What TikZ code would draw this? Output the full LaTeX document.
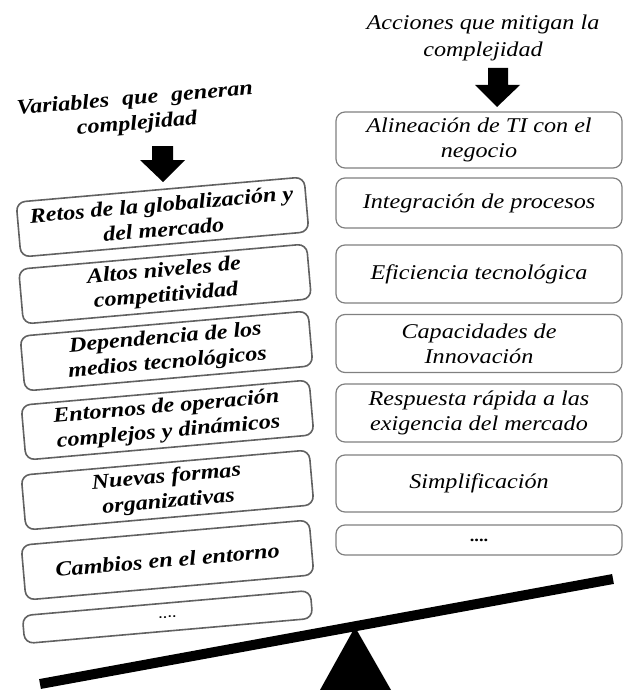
\documentclass[tikz,border=0pt]{standalone}
\usepackage{fontspec}
\setmainfont{Liberation Serif}[FakeStretch=1.15]
\begin{document}
\begin{tikzpicture}[x=1pt,y=-1pt,
  lbox/.style={draw=black!62, line width=1.6pt, rounded corners=9pt,
    minimum width=289pt, minimum height=55pt, align=center, inner sep=1pt,
    font=\fontsize{21}{25}\selectfont\bfseries\itshape, rotate=5},
  rbox/.style={draw=black!50, line width=1.2pt, rounded corners=9pt,
    minimum width=286pt, minimum height=57pt, align=center, inner sep=1pt,
    font=\fontsize{21}{25}\selectfont\itshape},
  head/.style={align=center, inner sep=0pt},
  blockarrow/.style={fill=black}]
\useasboundingbox (0,0) rectangle (624,690);

% headings
\node[head, rotate=5, font=\fontsize{21}{25}\selectfont\bfseries\itshape] (lhead) at (136,112)
  {Variables\hspace{7pt} que\hspace{7pt} generan\\complejidad};
\node[head, font=\fontsize{21}{27}\selectfont\itshape] (rhead) at (483,38)
  {Acciones que mitigan la\\complejidad};

% block arrows
\fill[blockarrow] (152,146) -- (173,146) -- (173,160) -- (185,160) -- (163,182) -- (140,160) -- (152,160) -- cycle;
\fill[blockarrow] (488,68) -- (508,68) -- (508,85) -- (520,85) -- (497,107) -- (475,85) -- (488,85) -- cycle;

% left boxes
\node[lbox] (l1) at (162.5,217) {Retos de la globalización y\\del mercado};
\node[lbox] (l2) at (165,284) {Altos niveles de\\competitividad};
\node[lbox] (l3) at (166.5,351) {Dependencia de los\\medios tecnológicos};
\node[lbox] (l4) at (167.5,420) {Entornos de operación\\complejos y dinámicos};
\node[lbox] (l5) at (167.5,490) {Nuevas formas\\organizativas};
\node[lbox] (l6) at (167.5,560) {Cambios en el entorno};
\node[lbox, minimum height=28pt, font=\fontsize{16}{18}\selectfont] (l7) at (167.5,617) {....};

% right boxes
\node[rbox, minimum height=56pt] (r1) at (479,140) {Alineación de TI con el\\negocio};
\node[rbox, minimum height=50pt] (r2) at (479,203) {Integración de procesos};
\node[rbox, minimum height=58pt] (r3) at (479,274) {Eficiencia tecnológica};
\node[rbox, minimum height=58pt] (r4) at (479,343.5) {Capacidades de\\Innovación};
\node[rbox, minimum height=58pt] (r5) at (479,413) {Respuesta rápida a las\\exigencia del mercado};
\node[rbox, minimum height=57pt] (r6) at (479,483.5) {Simplificación};
\node[rbox, minimum height=30pt, font=\fontsize{16}{18}\selectfont\bfseries] (r7) at (479,540) {....};

% balance
\draw[line width=10pt] (40,684) -- (613,579);
\fill (355,627) -- (391,690) -- (320,690) -- cycle;
\end{tikzpicture}
\end{document}
